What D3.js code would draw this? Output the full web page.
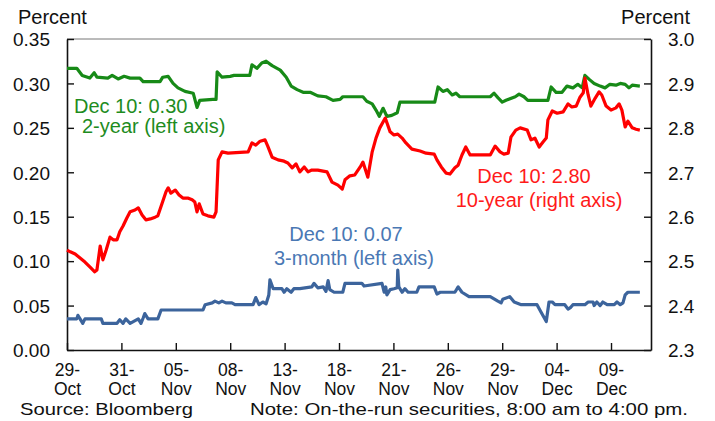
<!DOCTYPE html>
<html>
<head>
<meta charset="utf-8">
<script src="https://cdn.jsdelivr.net/npm/d3@7"></script>
<style>
  html, body { margin: 0; padding: 0; background: #fff; }
  svg text { font-family: "Liberation Sans", Arial, sans-serif; }
</style>
</head>
<body>
<svg width="715" height="421"></svg>
<script>
// x is measured in tick periods (29-Oct = 0, 31-Oct = 1, ...)
const xTickLabels = [
  ['29-', 'Oct'], ['31-', 'Oct'], ['05-', 'Nov'], ['08-', 'Nov'], ['13-', 'Nov'], ['18-', 'Nov'],
  ['21-', 'Nov'], ['26-', 'Nov'], ['29-', 'Nov'], ['04-', 'Dec'], ['09-', 'Dec']
];
const leftTicks = [0, 0.05, 0.10, 0.15, 0.20, 0.25, 0.30, 0.35];
const rightTicks = [2.3, 2.4, 2.5, 2.6, 2.7, 2.8, 2.9, 3.0];

// 2-year yield, percent (left axis)
const twoYear = [
  [0.00, 0.317], [0.18, 0.317], [0.28, 0.309], [0.42, 0.306], [0.50, 0.312], [0.55, 0.307],
  [0.75, 0.306], [0.83, 0.309], [0.94, 0.305], [1.05, 0.308], [1.16, 0.306], [1.34, 0.306],
  [1.40, 0.302], [1.71, 0.302], [1.76, 0.307], [1.86, 0.308], [1.95, 0.300], [2.04, 0.295],
  [2.17, 0.291], [2.32, 0.289], [2.39, 0.273], [2.44, 0.281], [2.68, 0.282], [2.74, 0.282],
  [2.76, 0.313], [2.85, 0.307], [3.00, 0.308], [3.07, 0.309], [3.36, 0.309], [3.40, 0.321],
  [3.49, 0.317], [3.58, 0.323], [3.66, 0.325], [3.77, 0.320], [3.92, 0.315], [4.03, 0.307],
  [4.12, 0.297], [4.23, 0.293], [4.34, 0.290], [4.47, 0.290], [4.61, 0.286], [4.76, 0.285],
  [4.89, 0.281], [5.02, 0.282], [5.07, 0.285], [5.44, 0.285], [5.51, 0.280], [5.61, 0.277],
  [5.68, 0.270], [5.74, 0.263], [5.81, 0.272], [5.88, 0.263], [5.97, 0.264], [6.07, 0.267],
  [6.12, 0.279], [6.76, 0.279], [6.82, 0.296], [6.91, 0.291], [6.99, 0.293], [7.08, 0.287],
  [7.15, 0.289], [7.22, 0.285], [7.78, 0.285], [7.85, 0.289], [7.92, 0.284], [8.00, 0.279],
  [8.07, 0.281], [8.24, 0.285], [8.31, 0.288], [8.40, 0.285], [8.47, 0.281], [8.84, 0.281],
  [8.90, 0.296], [8.99, 0.290], [9.10, 0.290], [9.19, 0.297], [9.30, 0.295], [9.39, 0.299],
  [9.47, 0.295], [9.52, 0.309], [9.61, 0.304], [9.69, 0.300], [9.80, 0.297], [9.89, 0.295],
  [9.98, 0.299], [10.09, 0.298], [10.17, 0.300], [10.26, 0.299], [10.33, 0.295], [10.39, 0.298],
  [10.53, 0.297]
];

// 10-year yield, percent (right axis)
const tenYear = [
  [0.00, 2.525], [0.06, 2.521], [0.15, 2.516], [0.24, 2.507], [0.33, 2.498], [0.42, 2.487],
  [0.51, 2.476], [0.55, 2.480], [0.61, 2.534], [0.66, 2.503], [0.72, 2.525], [0.79, 2.554],
  [0.85, 2.548], [0.92, 2.548], [0.97, 2.566], [1.03, 2.579], [1.10, 2.597], [1.16, 2.611],
  [1.25, 2.615], [1.31, 2.620], [1.38, 2.604], [1.45, 2.593], [1.53, 2.595], [1.62, 2.599],
  [1.67, 2.602], [1.75, 2.631], [1.82, 2.656], [1.86, 2.665], [1.91, 2.653], [1.99, 2.660],
  [2.06, 2.649], [2.13, 2.642], [2.22, 2.642], [2.30, 2.638], [2.35, 2.633], [2.39, 2.611],
  [2.43, 2.629], [2.50, 2.606], [2.59, 2.602], [2.70, 2.599], [2.74, 2.611], [2.78, 2.728],
  [2.85, 2.746], [2.96, 2.743], [3.33, 2.746], [3.40, 2.766], [3.47, 2.761], [3.55, 2.770],
  [3.64, 2.773], [3.69, 2.759], [3.77, 2.734], [3.88, 2.728], [3.99, 2.725], [4.06, 2.721],
  [4.14, 2.710], [4.21, 2.719], [4.28, 2.701], [4.36, 2.712], [4.43, 2.701], [4.50, 2.705],
  [4.61, 2.705], [4.78, 2.701], [4.87, 2.678], [4.98, 2.671], [5.06, 2.662], [5.11, 2.683],
  [5.20, 2.692], [5.29, 2.694], [5.39, 2.712], [5.44, 2.723], [5.53, 2.689], [5.61, 2.746],
  [5.68, 2.777], [5.75, 2.800], [5.85, 2.822], [5.94, 2.791], [6.01, 2.784], [6.08, 2.786],
  [6.16, 2.777], [6.23, 2.766], [6.34, 2.752], [6.49, 2.748], [6.60, 2.743], [6.75, 2.741],
  [6.80, 2.728], [6.88, 2.712], [6.97, 2.698], [7.04, 2.696], [7.13, 2.710], [7.19, 2.716],
  [7.26, 2.739], [7.33, 2.757], [7.41, 2.739], [7.78, 2.739], [7.87, 2.759], [7.96, 2.746],
  [8.03, 2.741], [8.11, 2.743], [8.16, 2.779], [8.25, 2.795], [8.33, 2.800], [8.46, 2.795],
  [8.53, 2.773], [8.60, 2.777], [8.68, 2.757], [8.75, 2.768], [8.81, 2.777], [8.84, 2.818],
  [8.92, 2.838], [9.01, 2.833], [9.12, 2.836], [9.21, 2.854], [9.28, 2.847], [9.36, 2.849],
  [9.43, 2.869], [9.49, 2.879], [9.52, 2.912], [9.58, 2.874], [9.63, 2.849], [9.71, 2.867],
  [9.78, 2.881], [9.83, 2.874], [9.91, 2.849], [10.00, 2.840], [10.09, 2.845], [10.15, 2.854],
  [10.20, 2.840], [10.26, 2.802], [10.31, 2.815], [10.39, 2.800], [10.46, 2.797], [10.53, 2.795]
];

// 3-month bill yield, percent (left axis)
const threeMonth = [
  [0.00, 0.035], [0.18, 0.035], [0.20, 0.039], [0.24, 0.035], [0.29, 0.030], [0.33, 0.035],
  [0.63, 0.035], [0.66, 0.030], [0.92, 0.030], [0.97, 0.034], [1.03, 0.030], [1.08, 0.035],
  [1.16, 0.030], [1.31, 0.035], [1.36, 0.030], [1.40, 0.036], [1.43, 0.041], [1.49, 0.035],
  [1.67, 0.035], [1.73, 0.045], [2.50, 0.045], [2.54, 0.051], [2.67, 0.053], [2.72, 0.055],
  [2.79, 0.053], [2.85, 0.055], [2.92, 0.053], [3.03, 0.053], [3.09, 0.051], [3.42, 0.051],
  [3.47, 0.059], [3.53, 0.051], [3.60, 0.054], [3.66, 0.052], [3.71, 0.062], [3.73, 0.079],
  [3.79, 0.069], [3.95, 0.069], [3.99, 0.065], [4.04, 0.069], [4.12, 0.065], [4.17, 0.069],
  [4.28, 0.069], [4.50, 0.071], [4.54, 0.075], [4.61, 0.070], [4.71, 0.071], [4.76, 0.066],
  [4.80, 0.078], [4.83, 0.068], [4.91, 0.065], [5.07, 0.065], [5.11, 0.075], [5.42, 0.075],
  [5.46, 0.072], [5.79, 0.075], [5.83, 0.065], [5.86, 0.071], [5.88, 0.062], [5.94, 0.068],
  [6.01, 0.069], [6.07, 0.070], [6.08, 0.090], [6.10, 0.071], [6.16, 0.065], [6.21, 0.069],
  [6.27, 0.065], [6.43, 0.065], [6.47, 0.071], [6.75, 0.071], [6.80, 0.063], [6.86, 0.065],
  [7.13, 0.065], [7.19, 0.071], [7.26, 0.065], [7.39, 0.060], [7.78, 0.060], [7.92, 0.055],
  [7.98, 0.053], [8.01, 0.057], [8.14, 0.060], [8.22, 0.054], [8.35, 0.051], [8.64, 0.051],
  [8.71, 0.043], [8.81, 0.032], [8.86, 0.054], [8.92, 0.054], [8.97, 0.051], [9.15, 0.051],
  [9.21, 0.046], [9.26, 0.048], [9.30, 0.051], [9.52, 0.051], [9.58, 0.054], [9.67, 0.054],
  [9.69, 0.050], [9.74, 0.054], [9.80, 0.050], [9.85, 0.054], [9.93, 0.051], [10.06, 0.051],
  [10.11, 0.054], [10.17, 0.051], [10.22, 0.053], [10.26, 0.062], [10.31, 0.065], [10.53, 0.065]
];

const svg = d3.select('svg');
const margin = {top: 39, right: 64, bottom: 71, left: 67};
const width = 715 - margin.left - margin.right;
const height = 421 - margin.top - margin.bottom;
const g = svg.append('g').attr('transform', `translate(${margin.left},${margin.top})`);

const x = d3.scaleLinear().domain([0, 10.735]).range([0, width]);
const yL = d3.scaleLinear().domain([0, 0.35]).range([height, 0]);
const yR = d3.scaleLinear().domain([2.3, 3.0]).range([height, 0]);

// frame top
g.append('line').attr('x1', 0).attr('x2', width).attr('y1', 0).attr('y2', 0)
  .attr('stroke', '#777').attr('stroke-width', 1);

// axes, ticks pointing inward
const axisStyle = sel => {
  sel.select('.domain').attr('stroke', '#111').attr('stroke-width', 1.6);
  sel.selectAll('.tick line').attr('stroke', '#111').attr('stroke-width', 1.4);
  sel.selectAll('text').attr('font-size', 19).attr('fill', '#111').attr('font-family', null);
};

g.append('g')
  .call(d3.axisLeft(yL).tickValues(leftTicks).tickFormat(d3.format('.2f'))
    .tickSizeInner(-7).tickSizeOuter(0).tickPadding(17))
  .call(axisStyle)
  .call(a => a.selectAll('text').attr('dy', '0.36em'));

g.append('g').attr('transform', `translate(${width},0)`)
  .call(d3.axisRight(yR).tickValues(rightTicks).tickFormat(d3.format('.1f'))
    .tickSizeInner(-7).tickSizeOuter(0).tickPadding(17))
  .call(axisStyle)
  .call(a => a.selectAll('text').attr('dy', '0.36em'));

const xAxis = g.append('g').attr('transform', `translate(0,${height})`)
  .call(d3.axisBottom(x).tickValues(d3.range(xTickLabels.length)).tickFormat('')
    .tickSizeInner(-7).tickSizeOuter(0))
  .call(axisStyle);

xAxis.selectAll('.tick').each(function (d) {
  const t = d3.select(this).append('text')
    .attr('fill', '#111').attr('font-size', 17.5).attr('text-anchor', 'middle');
  t.append('tspan').attr('x', 0).attr('y', 26).text(xTickLabels[d][0]);
  t.append('tspan').attr('x', 0).attr('y', 45).text(xTickLabels[d][1]);
});

// series
const series = [
  {data: twoYear, y: yL, color: '#178a17'},
  {data: tenYear, y: yR, color: '#ff0000'},
  {data: threeMonth, y: yL, color: '#3c649c'}
];

series.forEach(s => {
  const line = d3.line().x(d => x(d[0])).y(d => s.y(d[1]));
  g.append('path')
    .datum(s.data)
    .attr('fill', 'none')
    .attr('stroke', s.color)
    .attr('stroke-width', 3.2)
    .attr('stroke-linejoin', 'round')
    .attr('d', line);
});

// titles and notes
svg.append('text').attr('x', 18).attr('y', 24).attr('font-size', 20).attr('fill', '#111').text('Percent');
svg.append('text').attr('x', 690).attr('y', 24).attr('font-size', 20).attr('fill', '#111')
  .attr('text-anchor', 'end').text('Percent');

svg.append('text').attr('x', 20).attr('y', 415).attr('font-size', 17).attr('fill', '#111')
  .attr('textLength', 173).attr('lengthAdjust', 'spacingAndGlyphs').text('Source: Bloomberg');
svg.append('text').attr('x', 250).attr('y', 415).attr('font-size', 17).attr('fill', '#111')
  .attr('textLength', 438).attr('lengthAdjust', 'spacingAndGlyphs')
  .text('Note: On-the-run securities, 8:00 am to 4:00 pm.');

// series labels
const labels = [
  {x: 74, y: 113, anchor: 'start', color: '#1e8c1e', text: 'Dec 10: 0.30'},
  {x: 82, y: 133, anchor: 'start', color: '#1e8c1e', text: '2-year (left axis)'},
  {x: 534, y: 183, anchor: 'middle', color: '#ff1a1a', text: 'Dec 10: 2.80'},
  {x: 539, y: 207, anchor: 'middle', color: '#ff1a1a', text: '10-year (right axis)'},
  {x: 346, y: 241, anchor: 'middle', color: '#4a78b4', text: 'Dec 10: 0.07'},
  {x: 354, y: 265, anchor: 'middle', color: '#4a78b4', text: '3-month (left axis)'}
];

svg.selectAll('.series-label')
  .data(labels).enter()
  .append('text')
  .attr('class', 'series-label')
  .attr('x', d => d.x).attr('y', d => d.y)
  .attr('text-anchor', d => d.anchor)
  .attr('font-size', 20)
  .attr('fill', d => d.color)
  .text(d => d.text);
</script>
</body>
</html>
